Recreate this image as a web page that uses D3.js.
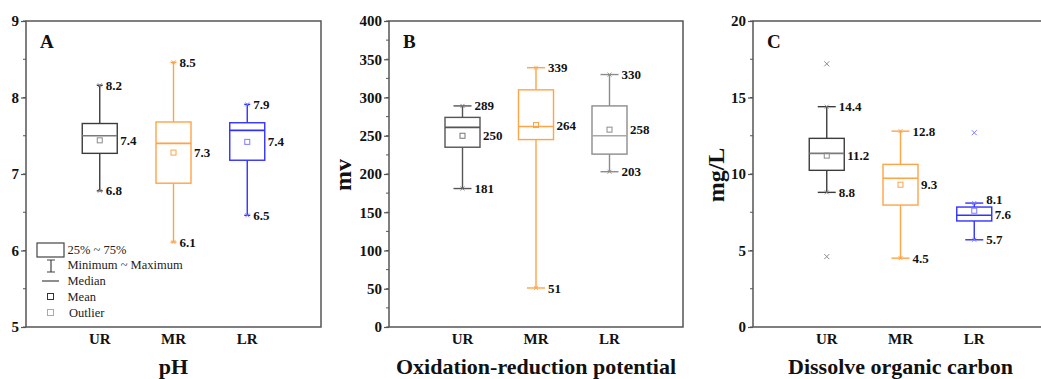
<!DOCTYPE html>
<html>
<head>
<meta charset="utf-8">
<script src="https://cdn.jsdelivr.net/npm/d3@7"></script>
<style>
  body { margin: 0; background: #fff; }
  svg { display: block; font-family: "Liberation Serif", "Times New Roman", serif; }
</style>
</head>
<body>
<svg id="chart" width="1041" height="379"></svg>
<script>
// categorias comuns aos três painéis
const categories = ["UR", "MR", "LR"];

// A - pH
const phMin    = [6.78, 6.11, 6.46];
const phQ1     = [7.27, 6.88, 7.18];
const phMedian = [7.50, 7.40, 7.57];
const phQ3     = [7.66, 7.68, 7.67];
const phMax    = [8.16, 8.46, 7.91];
const phMean   = [7.44, 7.28, 7.42];
const phOutliers = [[], [], []];
const phTicks  = [5, 6, 7, 8, 9];

// B - potencial de oxirredução
const orpMin    = [181, 51, 203];
const orpQ1     = [235, 245, 226];
const orpMedian = [261, 262, 250];
const orpQ3     = [274, 310, 289];
const orpMax    = [289, 339, 330];
const orpMean   = [250, 264, 258];
const orpOutliers = [[], [], []];
const orpTicks  = [0, 50, 100, 150, 200, 250, 300, 350, 400];

// C - carbono orgânico dissolvido
const docMin    = [8.8, 4.5, 5.7];
const docQ1     = [10.24, 7.97, 6.93];
const docMedian = [11.35, 9.72, 7.30];
const docQ3     = [12.33, 10.63, 7.84];
const docMax    = [14.4, 12.8, 8.1];
const docMean   = [11.2, 9.3, 7.6];
const docOutliers = [[17.2, 4.6], [], [12.7]];
const docTicks  = [0, 5, 10, 15, 20];

const legendItems = ["25% ~ 75%", "Minimum ~ Maximum", "Median", "Mean", "Outlier"];

const svg = d3.select("#chart");
const plotTop = 21, plotBottom = 327;

function buildRows(min, q1, med, q3, max, mean, outl) {
    return categories.map((c, i) => ({
        cat: c, min: min[i], q1: q1[i], median: med[i], q3: q3[i],
        max: max[i], mean: mean[i], outliers: outl[i]
    }));
}

function cross(cx, cy, r) {
    return `M${cx - r},${cy - r}L${cx + r},${cy + r}M${cx - r},${cy + r}L${cx + r},${cy - r}`;
}

function drawPanel(p) {
    const g = svg.append("g");
    const x = d3.scalePoint().domain(categories).range([p.left, p.right]).padding(1);
    const y = d3.scaleLinear().domain(p.domain).range([plotBottom, plotTop]);
    const boxW = 35;

    // ticks menores
    const minorStep = (p.ticks[1] - p.ticks[0]) / 2;
    const minor = d3.range(p.domain[0], p.domain[1] + 1e-9, minorStep);
    g.selectAll(".minor").data(minor).enter().append("line")
        .attr("x1", p.left - 3).attr("x2", p.left)
        .attr("y1", d => y(d)).attr("y2", d => y(d))
        .attr("stroke", "#555").attr("stroke-width", 1);

    // eixo y
    const yAxis = d3.axisLeft(y).tickValues(p.ticks).tickFormat(d3.format("d"))
        .tickSize(5).tickPadding(2);
    const ya = g.append("g").attr("transform", `translate(${p.left},0)`).call(yAxis)
        .attr("font-family", null).attr("font-size", null);
    ya.select(".domain").remove();
    ya.selectAll("line").attr("stroke", "#555").attr("stroke-width", 1.2);
    ya.selectAll("text").attr("font-weight", "bold")
        .attr("font-size", 15).attr("fill", "#111");

    // rótulos das categorias
    g.selectAll(".cat").data(categories).enter().append("text")
        .attr("x", d => x(d)).attr("y", 344)
        .attr("text-anchor", "middle").attr("font-weight", "bold").attr("font-size", 15)
        .attr("fill", "#111").text(d => d);

    // moldura
    g.append("rect").attr("x", p.left).attr("y", plotTop)
        .attr("width", p.right - p.left).attr("height", plotBottom - plotTop)
        .attr("fill", "none").attr("stroke", "#555").attr("stroke-width", 1.5);

    // letra do painel
    g.append("text").attr("x", p.left + 14).attr("y", 48)
        .attr("font-weight", "bold").attr("font-size", 19).attr("fill", "#111").text(p.letter);

    // título do eixo x
    g.append("text").attr("x", (p.left + p.right) / 2).attr("y", 374)
        .attr("text-anchor", "middle").attr("font-weight", "bold").attr("font-size", 22)
        .attr("fill", "#111").text(p.title);

    // título do eixo y
    if (p.yTitle) {
        g.append("text").attr("transform", `translate(${p.yTitleX},175) rotate(-90)`)
            .attr("text-anchor", "middle").attr("font-weight", "bold").attr("font-size", 24)
            .attr("fill", "#111").text(p.yTitle);
    }

    const boxes = g.selectAll(".box").data(p.rows).enter().append("g");
    boxes.each(function (d, i) {
        const b = d3.select(this);
        const c = p.colors[i];
        const cx = x(d.cat);
        // bigodes
        b.append("line").attr("x1", cx).attr("x2", cx).attr("y1", y(d.max)).attr("y2", y(d.q3))
            .attr("stroke", c.stroke).attr("stroke-width", 1.4);
        b.append("line").attr("x1", cx).attr("x2", cx).attr("y1", y(d.q1)).attr("y2", y(d.min))
            .attr("stroke", c.stroke).attr("stroke-width", 1.4);
        [d.max, d.min].forEach(v => {
            b.append("line").attr("x1", cx - p.cap / 2).attr("x2", cx + p.cap / 2)
                .attr("y1", y(v)).attr("y2", y(v))
                .attr("stroke", c.stroke).attr("stroke-width", 1.4);
            b.append("path").attr("d", cross(cx, y(v), 2))
                .attr("stroke", c.light).attr("stroke-width", 0.9);
        });
        // caixa
        b.append("rect").attr("x", cx - boxW / 2).attr("y", y(d.q3))
            .attr("width", boxW).attr("height", y(d.q1) - y(d.q3))
            .attr("fill", "none").attr("stroke", c.stroke).attr("stroke-width", 1.4);
        b.append("line").attr("x1", cx - boxW / 2).attr("x2", cx + boxW / 2)
            .attr("y1", y(d.median)).attr("y2", y(d.median))
            .attr("stroke", c.median).attr("stroke-width", 1.6);
        // média
        b.append("rect").attr("x", cx - 2.5).attr("y", y(d.mean) - 2.5)
            .attr("width", 5).attr("height", 5)
            .attr("fill", "none").attr("stroke", c.light).attr("stroke-width", 1);
        // outliers
        d.outliers.forEach(v => {
            b.append("path").attr("d", cross(cx, y(v), 2.5))
                .attr("stroke", c.light).attr("stroke-width", 1);
        });
        // rótulos de valores (afastar quando máximo e média ficam muito perto)
        const close = Math.abs(y(d.max) - y(d.mean)) < 14;
        const lab = (val, lx, dy) => b.append("text").attr("x", lx).attr("y", y(val) + dy)
            .attr("dy", "0.35em").attr("font-weight", "bold").attr("font-size", 13)
            .attr("fill", "#111").text(d3.format(p.fmt)(val));
        lab(d.max, cx + p.cap / 2 + 3, close ? -4 : 0);
        lab(d.mean, cx + boxW / 2 + 3, close ? 4 : 0);
        lab(d.min, cx + p.cap / 2 + 3, 0);
    });
    return g;
}

const dark = { stroke: "#3c3c3c", median: "#7a7a7a", light: "#8a8a8a" };
const orange = { stroke: "#FFA347", median: "#FFA347", light: "#FFA347" };
const blue = { stroke: "#3232FF", median: "#3232FF", light: "#7d7dff" };
const grey = { stroke: "#8c8c8c", median: "#a8a8a8", light: "#8c8c8c" };

const panelA = drawPanel({
    left: 26, right: 321, domain: [5, 9], ticks: phTicks, letter: "A", title: "pH",
    rows: buildRows(phMin, phQ1, phMedian, phQ3, phMax, phMean, phOutliers),
    colors: [dark, orange, blue], cap: 6, fmt: ".1f"
});

drawPanel({
    left: 389, right: 683, domain: [0, 400], ticks: orpTicks, letter: "B",
    title: "Oxidation-reduction potential", yTitle: "mv", yTitleX: 351,
    rows: buildRows(orpMin, orpQ1, orpMedian, orpQ3, orpMax, orpMean, orpOutliers),
    colors: [{ stroke: "#555", median: "#555", light: "#777" }, orange, grey], cap: 18, fmt: "d"
});

drawPanel({
    left: 753, right: 1048, domain: [0, 20], ticks: docTicks, letter: "C",
    title: "Dissolve organic carbon", yTitle: "mg/L", yTitleX: 724,
    rows: buildRows(docMin, docQ1, docMedian, docQ3, docMax, docMean, docOutliers),
    colors: [dark, orange, blue], cap: 18, fmt: ".1f"
});

// legenda do painel A
const leg = panelA.append("g");
const ly = [250, 265, 281, 297, 313];
leg.append("rect").attr("x", 37).attr("y", 243).attr("width", 27).attr("height", 14)
    .attr("fill", "none").attr("stroke", "#444").attr("stroke-width", 1.2);
leg.append("path").attr("d", "M47,260H55M51,260V272M47,272H55")
    .attr("fill", "none").attr("stroke", "#444").attr("stroke-width", 1.2);
leg.append("line").attr("x1", 42).attr("x2", 59).attr("y1", 281).attr("y2", 281)
    .attr("stroke", "#444").attr("stroke-width", 1.2);
leg.append("rect").attr("x", 47.5).attr("y", 293.5).attr("width", 6).attr("height", 6)
    .attr("fill", "none").attr("stroke", "#333").attr("stroke-width", 1);
leg.append("rect").attr("x", 47.5).attr("y", 309.5).attr("width", 6).attr("height", 6)
    .attr("fill", "none").attr("stroke", "#aaa").attr("stroke-width", 1);
leg.selectAll(".lt").data(legendItems).enter().append("text")
    .attr("x", (d, i) => i === 4 ? 69 : 67.5).attr("y", (d, i) => ly[i]).attr("dy", "0.35em")
    .attr("font-size", 12.5).attr("fill", "#222").text(d => d);
</script>
</body>
</html>
